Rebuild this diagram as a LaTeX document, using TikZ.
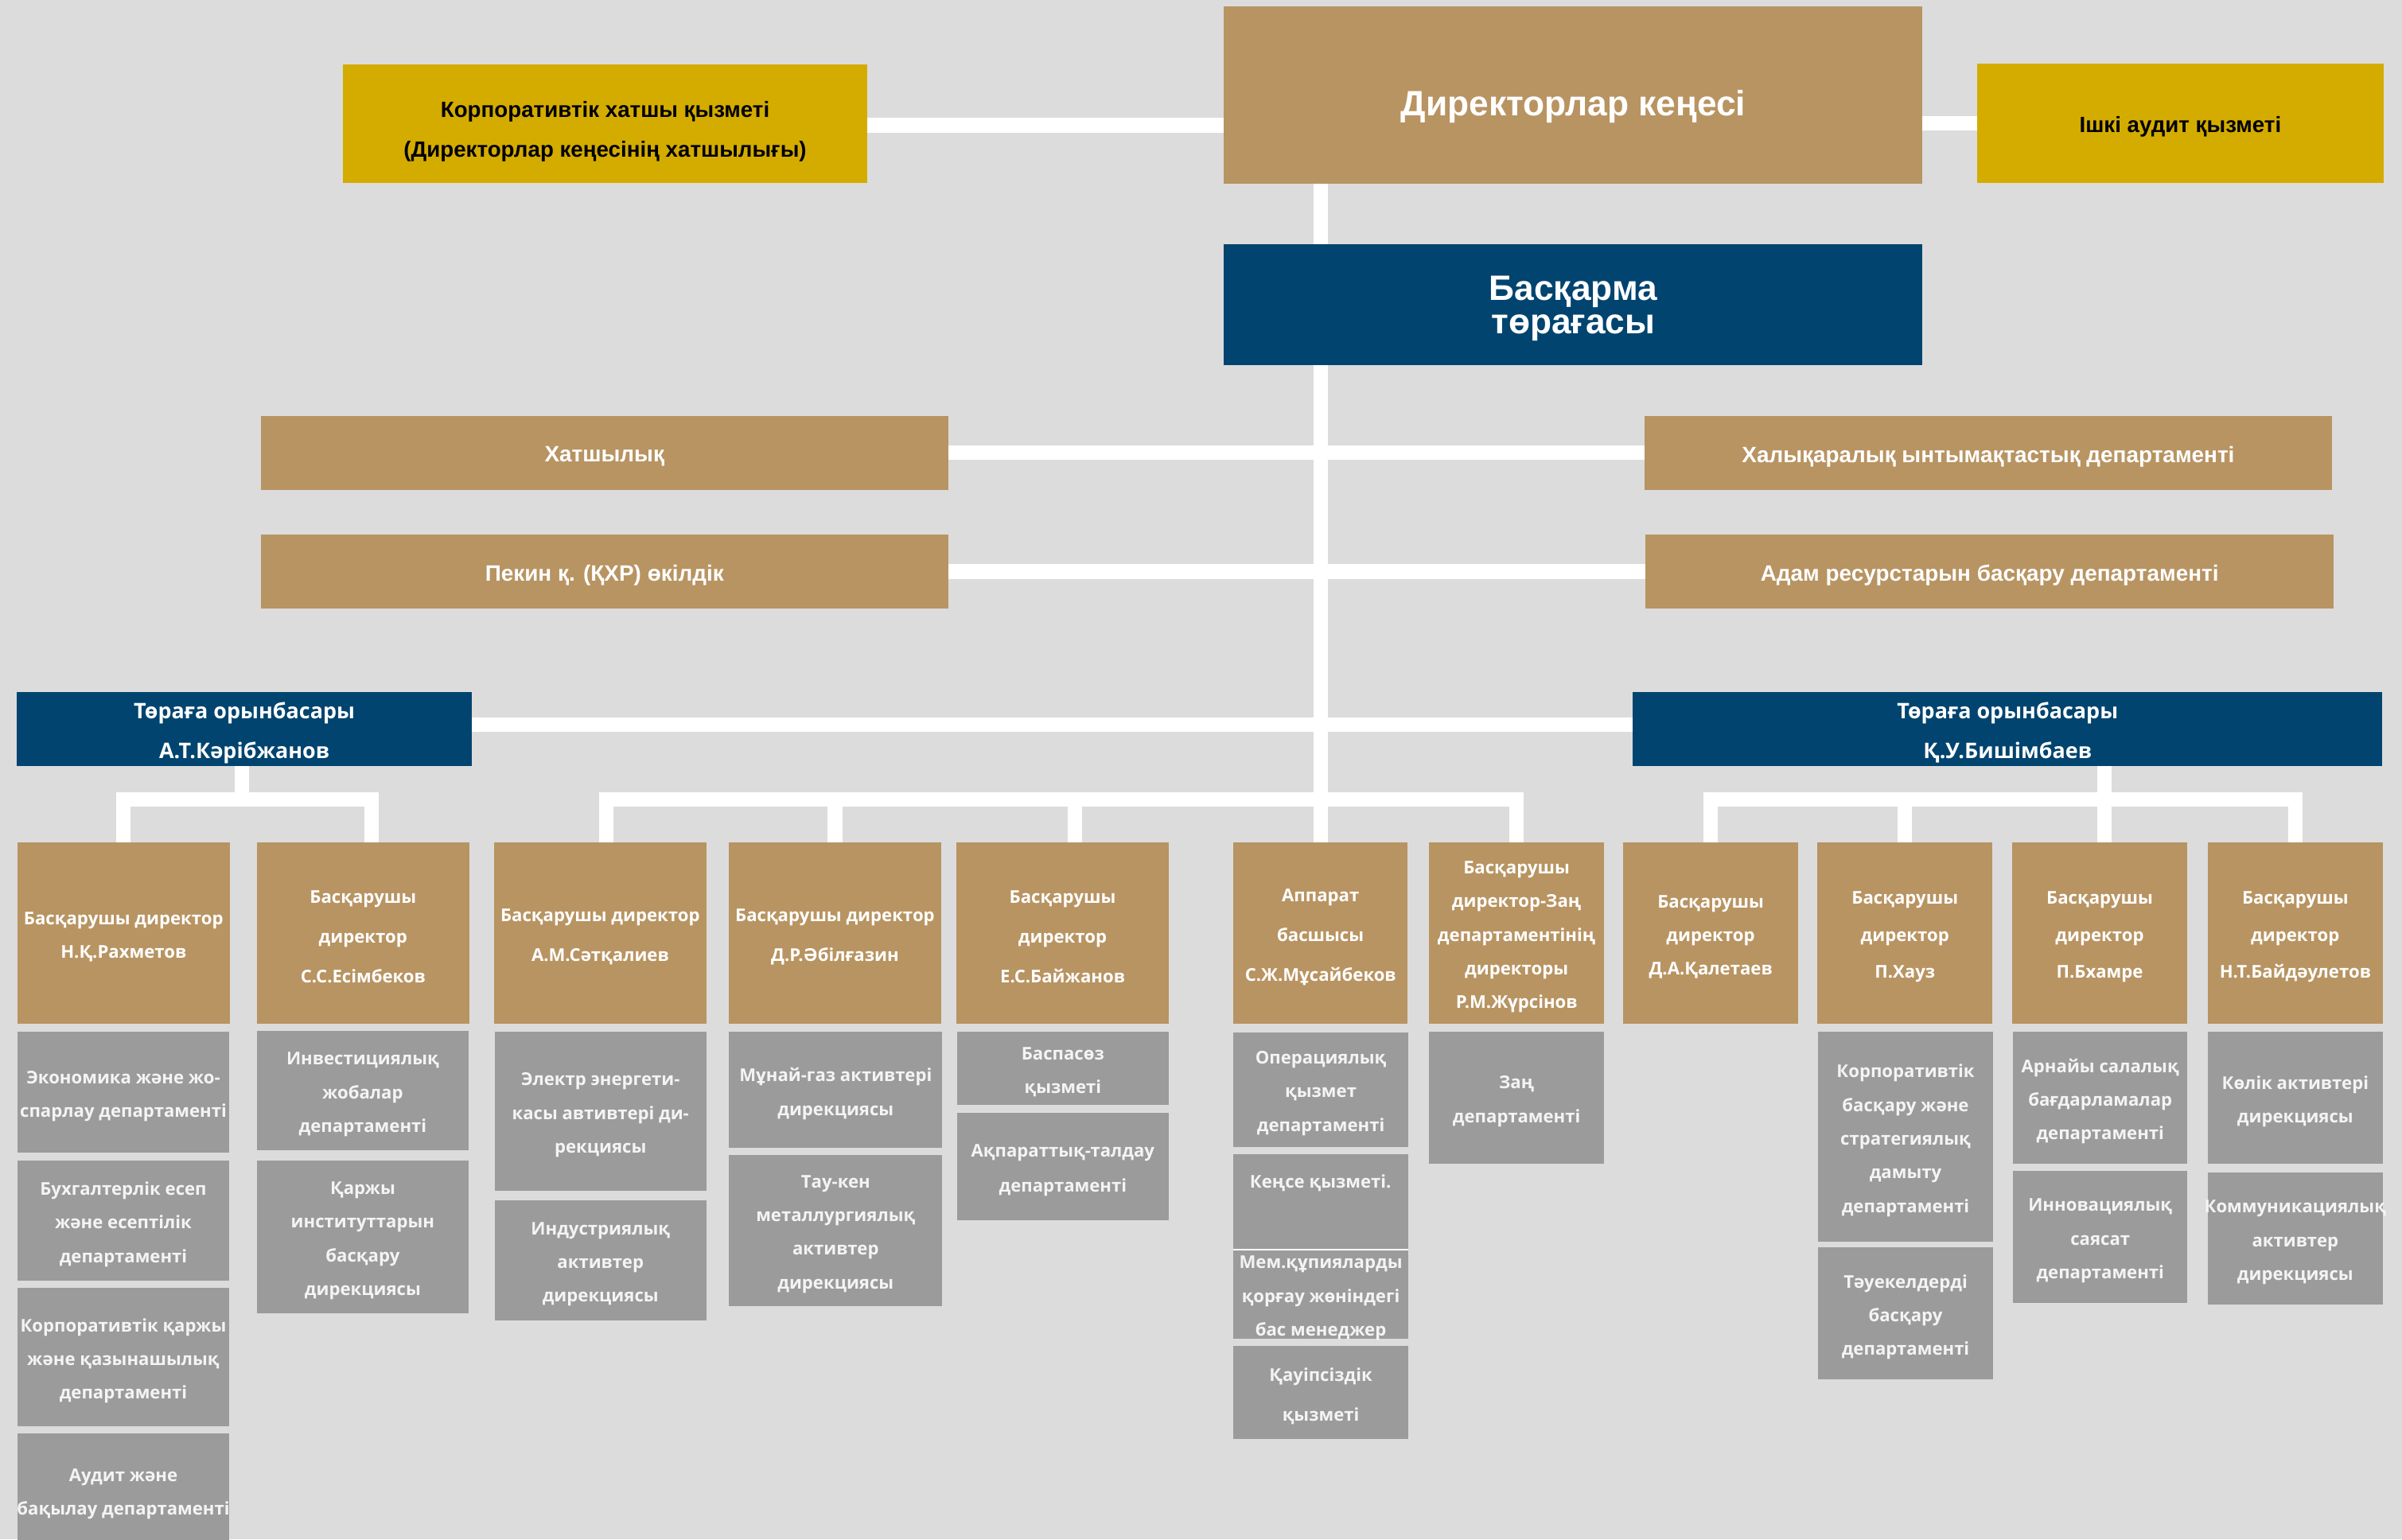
\documentclass[tikz,border=0pt]{standalone}
\usepackage{fontspec}
\newfontfamily\topf{Liberation Sans}
\newfontfamily\lowf{Open Sans}
\usetikzlibrary{calc}
\definecolor{bgc}{HTML}{DCDCDC}
\definecolor{goldc}{HTML}{D4AC00}
\definecolor{tanc}{HTML}{B89462}
\definecolor{navyc}{HTML}{00446F}
\definecolor{greyc}{HTML}{9B9B9B}
\definecolor{greytext}{HTML}{F4F4F4}
\pgfdeclarelayer{back}
\pgfsetlayers{back,main}
\tikzset{
  base/.style={rectangle, inner sep=0pt, outer sep=0pt, anchor=north west},
  txt/.style={inner sep=0pt, outer sep=0pt, align=center},
  goldbox/.style={base, fill=goldc},
  goldtxt/.style={txt, text=black, font=\topf\bfseries\fontsize{14.4}{26}\selectfont},
  tanbox/.style={base, fill=tanc},
  navybox/.style={base, fill=navyc},
  navybigtxt/.style={txt, text=white, font=\topf\bfseries\fontsize{23}{22}\selectfont},
  tanmidtxt/.style={txt, text=white, font=\topf\bfseries\fontsize{14.5}{18}\selectfont},
  navysmtxt/.style={txt, text=white, font=\lowf\bfseries\fontsize{14}{26}\selectfont},
  dirtxt/.style={txt, text=white, font=\lowf\bfseries\fontsize{11.5}{#1}\selectfont},
  dirtxt/.default=22,
  greybox/.style={base, fill=greyc},
  greytxt/.style={txt, text=greytext, font=\lowf\bfseries\fontsize{11.5}{#1}\selectfont},
  greytxt/.default=22,
  conn/.style={draw=white, line width=9.5pt},
}
% box style, text style, name, x0, y0, x1, y1, text
\newcommand\obox[8]{%
  \node[#1, minimum width={(#6-#4)*1pt}, minimum height={(#7-#5)*1pt}] (#3) at (#4,#5) {};
  \node[#2] (#3t) at ($(#3.center)+(0,2.5)$) {#8};}
\begin{document}
\begin{tikzpicture}[x=1pt,y=-1pt]
\useasboundingbox (0,0) rectangle (1568,1005);
% top level
\node[goldbox, minimum width=342pt, minimum height=77.5pt] (corp) at (224,42) {};
\node[goldtxt] (corpt) at (395,86) {Корпоративтік хатшы қызметі\\(Директорлар кеңесінің хатшылығы)};
\node[tanbox, minimum width=456pt, minimum height=116pt] (board) at (799,4) {};
\node[navybigtxt] (boardt) at (1027,69.5) {Директорлар кеңесі};
\obox{goldbox}{goldtxt}{audit}{1290.6}{41.5}{1556}{119.3}{Ішкі аудит қызметі}
\obox{navybox}{navybigtxt}{chair}{799}{159.4}{1255}{238.2}{Басқарма\\төрағасы}
\obox{tanbox}{tanmidtxt}{hat}{170.1}{271.6}{619.1}{319.8}{Хатшылық}
\obox{tanbox}{tanmidtxt}{halyk}{1073.4}{271.6}{1522.4}{319.8}{Халықаралық ынтымақтастық департаменті}
\obox{tanbox}{tanmidtxt}{pek}{170.1}{349}{619.1}{397.2}{Пекин қ. (ҚХР) өкілдік}
\obox{tanbox}{tanmidtxt}{adam}{1074.3}{349}{1523.3}{397.2}{Адам ресурстарын басқару департаменті}
\obox{navybox}{navysmtxt}{kar}{11}{452}{308}{500}{Төраға орынбасары\\А.Т.Кәрібжанов}
\obox{navybox}{navysmtxt}{bish}{1066}{452}{1555}{500}{Төраға орынбасары\\Қ.У.Бишімбаев}
% directors
\obox{tanbox}{dirtxt=22}{rakh}{11.3}{550}{150}{668.5}{Басқарушы директор\\Н.Қ.Рахметов}
\obox{tanbox}{dirtxt=26}{esim}{167.6}{550}{306.4}{668.5}{Басқарушы\\директор\\С.С.Есімбеков}
\obox{tanbox}{dirtxt=26}{satk}{322.6}{550}{461}{668.5}{Басқарушы директор\\А.М.Сәтқалиев}
\obox{tanbox}{dirtxt=26}{abil}{475.7}{550}{614.4}{668.5}{Басқарушы директор\\Д.Р.Әбілғазин}
\obox{tanbox}{dirtxt=26}{baizh}{624.3}{550}{763}{668.5}{Басқарушы\\директор\\Е.С.Байжанов}
\obox{tanbox}{dirtxt=26}{app}{805}{550}{919}{668.5}{Аппарат\\басшысы\\С.Ж.Мұсайбеков}
\obox{tanbox}{dirtxt=22}{zhur}{933}{550}{1047}{668.5}{Басқарушы\\директор-Заң\\департаментінің\\директоры\\Р.М.Жүрсінов}
\obox{tanbox}{dirtxt=22}{kal}{1059.6}{550}{1173.8}{668.5}{Басқарушы\\директор\\Д.А.Қалетаев}
\obox{tanbox}{dirtxt=24}{haus}{1186.5}{550}{1300.5}{668.5}{Басқарушы\\директор\\П.Хауз}
\obox{tanbox}{dirtxt=24}{bham}{1313.5}{550}{1427.8}{668.5}{Басқарушы\\директор\\П.Бхамре}
\obox{tanbox}{dirtxt=24}{baid}{1441}{550}{1555.6}{668.5}{Басқарушы\\директор\\Н.Т.Байдәулетов}
% column 1
\obox{greybox}{greytxt}{eco}{11.3}{673.6}{149.7}{752.6}{Экономика және жо-\\спарлау департаменті}
\obox{greybox}{greytxt}{buh}{11.3}{757.7}{149.7}{836}{Бухгалтерлік есеп\\және есептілік\\департаменті}
\obox{greybox}{greytxt}{korpq}{11.3}{841}{149.7}{931}{Корпоративтік қаржы\\және қазынашылық\\департаменті}
\obox{greybox}{greytxt}{aud}{11.3}{936}{149.7}{1010}{Аудит және\\бақылау департаменті}
% column 2
\obox{greybox}{greytxt}{inv}{167.6}{673.3}{306}{751}{Инвестициялық\\жобалар\\департаменті}
\obox{greybox}{greytxt}{qarzh}{167.6}{757.7}{306}{857.6}{Қаржы\\институттарын\\басқару\\дирекциясы}
% column 3
\obox{greybox}{greytxt}{elec}{323}{673.6}{461}{777.5}{Электр энергети-\\касы автивтері ди-\\рекциясы}
\obox{greybox}{greytxt}{ind}{323}{783.8}{461}{862}{Индустриялық\\активтер\\дирекциясы}
% column 4
\obox{greybox}{greytxt}{mun}{476}{673.6}{615}{749.5}{Мұнай-газ активтері\\дирекциясы}
\obox{greybox}{greytxt}{tau}{476}{754}{615}{852.6}{Тау-кен\\металлургиялық\\активтер\\дирекциясы}
% column 5
\obox{greybox}{greytxt}{bas}{624.7}{673.6}{762.9}{721.4}{Баспасөз\\қызметі}
\obox{greybox}{greytxt=23}{akp}{624.7}{726.6}{762.9}{796.8}{Ақпараттық-талдау\\департаменті}
% column 6
\obox{greybox}{greytxt}{ops}{805}{674}{919.4}{748.8}{Операциялық\\қызмет\\департаменті}
\node[greybox, minimum width=114.4pt, minimum height=62.5pt] (kense) at (805,753.5) {};
\node[greytxt] (kenset) at (862,772.5) {Кеңсе қызметі.};
\obox{greybox}{greytxt}{mem}{805}{816}{919.4}{874}{Мем.құпияларды\\қорғау жөніндегі\\бас менеджер}
\draw[white, line width=1.2pt] (mem.north west) -- (mem.north east);
\obox{greybox}{greytxt=26}{kau}{805}{879}{919.4}{939.6}{Қауіпсіздік\\қызметі}
% column 7
\obox{greybox}{greytxt}{zan}{933}{673.6}{1047}{759.6}{Заң\\департаменті}
% right columns
\obox{greybox}{greytxt}{kbs}{1186.8}{673.6}{1301}{810.6}{Корпоративтік\\басқару және\\стратегиялық\\дамыту\\департаменті}
\obox{greybox}{greytxt}{taue}{1186.8}{814.5}{1301}{900.4}{Тәуекелдерді\\басқару\\департаменті}
\obox{greybox}{greytxt}{arn}{1314}{673.6}{1428}{759.6}{Арнайы салалық\\бағдарламалар\\департаменті}
\obox{greybox}{greytxt}{inn}{1314}{764.7}{1428}{850.5}{Инновациялық\\саясат\\департаменті}
\obox{greybox}{greytxt}{kol}{1441}{673.6}{1555.6}{759.6}{Көлік активтері\\дирекциясы}
\obox{greybox}{greytxt}{kom}{1441}{765.7}{1555.6}{851.6}{Коммуникациялық\\активтер\\дирекциясы}
% junctions
\coordinate (jL) at (158,522);
\coordinate (jM) at (862,522);
\coordinate (jR) at (1373.6,522);
\begin{pgfonlayer}{back}
\fill[bgc] (0,0) rectangle (1568,1005);
\draw[conn] ([yshift=-1pt]corp.east) -- ([yshift=-1pt]corp.east -| board.west);
\draw[conn] (board.east |- audit.west) -- (audit.west);
\draw[conn] (board.south -| app.north) -- (app.north);
\draw[conn] (hat.east) -- (hat.east -| halyk.west);
\draw[conn] (pek.east) -- (pek.east -| adam.west);
\draw[conn] ([yshift=3pt]kar.east) -- ([yshift=3pt]kar.east -| bish.west);
% left group
\draw[conn] (kar.south -| jL) -- (jL);
\draw[conn] (rakh.north) |- (jL) -| ([xshift=5.5pt]esim.north);
% middle group
\draw[conn] ([xshift=4pt]satk.north) |- (jM) -| (zhur.north);
\draw[conn] (abil.north |- jM) -- (abil.north);
\draw[conn] ([xshift=8pt]baizh.north |- jM) -- ([xshift=8pt]baizh.north);
% right group
\draw[conn] (bish.south -| jR) -- (jR);
\draw[conn] (kal.north) |- (jR) -| (baid.north);
\draw[conn] (haus.north |- jR) -- (haus.north);
\draw[conn] ([xshift=3pt]bham.north |- jR) -- ([xshift=3pt]bham.north);
\end{pgfonlayer}
\end{tikzpicture}
\end{document}
